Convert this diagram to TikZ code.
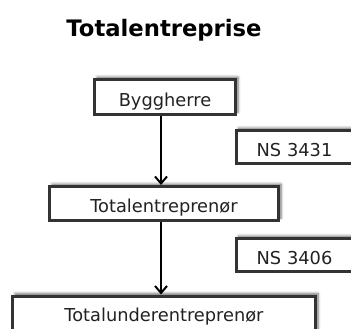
\documentclass[tikz,border=0pt]{standalone}
\usepackage{fontspec}
\setmainfont{DejaVu Sans}
\usetikzlibrary{arrows.meta,shadows.blur}
\definecolor{boxline}{HTML}{333333}
\definecolor{boxtext}{HTML}{222222}
\tikzset{
  box/.style={draw=boxline, line width=3pt, fill=white, inner sep=0pt,
    text=boxtext, font=\fontsize{17.8}{21}\selectfont,
    text height=18.5pt, text depth=0pt,
    blur shadow={shadow xshift=2.5pt, shadow yshift=2.5pt, shadow blur steps=6,
      shadow blur radius=2.5pt, shadow opacity=55}},
  normbox/.style={box, anchor=west, align=left, text width=100pt, inner xsep=20.5pt,
    minimum height=33pt},
  arr/.style={line width=2pt, draw=black, -{Straight Barb[length=7pt,width=12pt,line width=2pt]}},
}
\begin{document}
\begin{tikzpicture}[x=1pt, y=-1pt]
  \useasboundingbox (0,0) rectangle (351,329);
  \clip (0,0) rectangle (351,329);
  % heading
  \node[anchor=base, font=\bfseries\fontsize{22.7}{27}\selectfont] (title) at (164,36.5) {Totalentreprise};
  % parties
  \node[box, minimum width=141pt, minimum height=35pt] (byg) at (165,97) {Byggherre};
  \node[box, minimum width=229pt, minimum height=34pt] (tot) at (164,203.5) {Totalentreprenør};
  \node[box, anchor=north, minimum width=303pt, minimum height=40pt, text height=11pt]
    (under) at (164,294.5) {Totalunderentreprenør};
  % contract standards
  \node[normbox] (ns1) at (234.5,147) {NS 3431};
  \node[normbox] (ns2) at (234.5,255) {NS 3406};
  % contract lines
  \draw[arr] (byg.south -| 161,0) -- (tot.north -| 161,0);
  \draw[arr] (tot.south -| 161,0) -- (under.north -| 161,0);
\end{tikzpicture}
\end{document}
